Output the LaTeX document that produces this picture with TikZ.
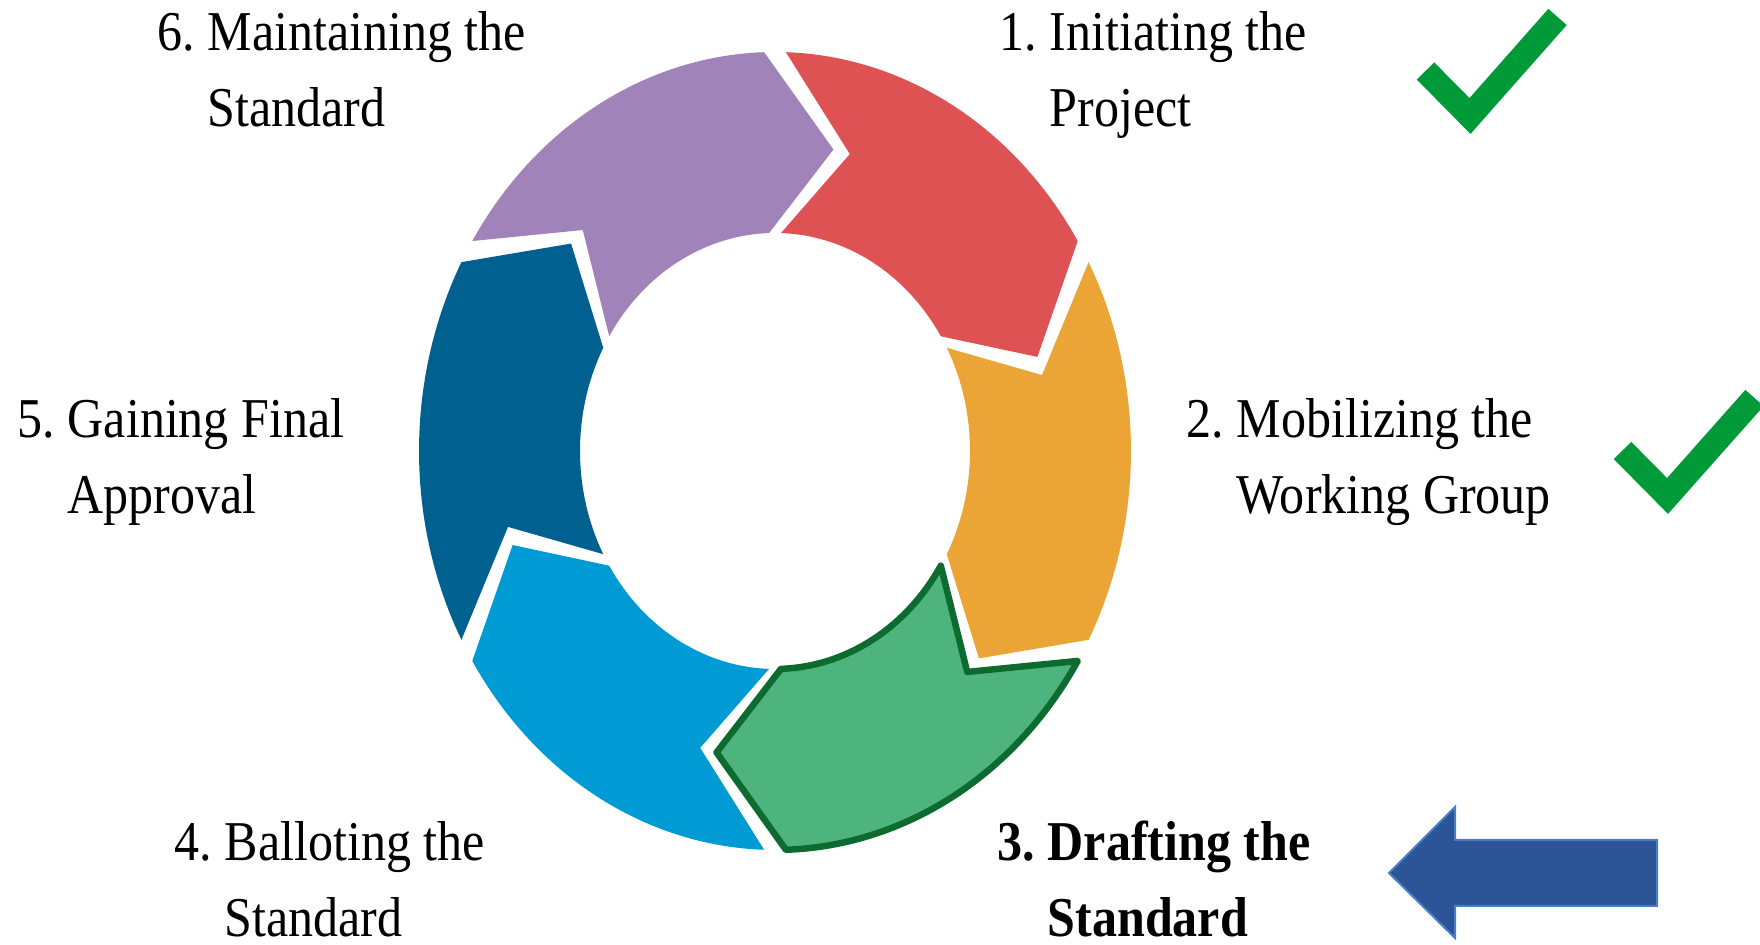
\documentclass[tikz,border=0pt]{standalone}
\usepackage{fontspec}
\setmainfont{Liberation Serif}[FakeStretch=0.89]
\definecolor{segred}{HTML}{DE5254}
\definecolor{segorange}{HTML}{EBA537}
\definecolor{seggreen}{HTML}{4DB47E}
\definecolor{segdkgreen}{HTML}{0E6B30}
\definecolor{seglblue}{HTML}{009BD5}
\definecolor{segdblue}{HTML}{006191}
\definecolor{segpurple}{HTML}{A083B9}
\definecolor{tickgreen}{HTML}{009B38}
\definecolor{arrowblue}{HTML}{2B5597}
\definecolor{arrowedge}{HTML}{4A7EC4}
% one block of the ring: #1 extra options, #2 colour, #3 start angle
\newcommand{\ringseg}[3][]{%
  \pgfmathsetmacro\sa{#3-1.75}%
  \pgfmathsetmacro\ea{#3-58.25}%
  \pgfmathsetmacro\na{#3-15.75}%
  \pgfmathsetmacro\ta{#3-72.25}%
  \path[fill=#2,#1] (\sa:3.56 and 3.99)
    arc[start angle=\sa, end angle=\ea, x radius=3.56, y radius=3.99]
    -- (\ta:2.755 and 3.085) -- (\ea:1.95 and 2.18)
    arc[start angle=\ea, end angle=\sa, x radius=1.95, y radius=2.18]
    -- (\na:2.755 and 3.085) -- cycle;}
\newcommand{\stagetext}[3]{\begin{tabular}[t]{@{}l@{\ }l@{}}#1 & #2\\ & #3\end{tabular}}
\begin{document}
\begin{tikzpicture}[
  lbl/.style={anchor=base west, inner sep=0pt, font=\fontsize{16}{21.6}\selectfont},
  tick/.style={tickgreen, line width=0.245cm, miter limit=10}]
	\useasboundingbox (0,0) rectangle (17.6,9.45);
	\clip (0,0) rectangle (17.6,9.45);
	% ring
	\begin{scope}[shift={(7.75,4.94)}]
		\ringseg{segred}{90}
		\ringseg{segorange}{30}
		\ringseg{seglblue}{-90}
		\ringseg{segdblue}{-150}
		\ringseg{segpurple}{150}
		\ringseg[draw=segdkgreen, line width=0.065cm, line join=round]{seggreen}{-30}
	\end{scope}
	% labels
	\node[lbl] (init) at (9.99,8.945) {\stagetext{1.}{Initiating the}{Project}};
	\node[lbl] (mobil) at (11.86,5.073) {\stagetext{2.}{Mobilizing the}{Working Group}};
	\node[lbl, font=\fontsize{16}{21.6}\selectfont\bfseries] (draft) at (9.97,0.84) {\stagetext{3.}{Drafting the}{Standard}};
	\node[lbl] (ballot) at (1.74,0.84) {\stagetext{4.}{Balloting the}{Standard}};
	\node[lbl] (final) at (0.17,5.073) {\stagetext{5.}{Gaining Final}{Approval}};
	\node[lbl] (maint) at (1.57,8.945) {\stagetext{6.}{Maintaining the}{Standard}};
	% ticks
	\draw[tick] (14.255,8.74) -- (14.70,8.29) -- (15.575,9.28);
	\draw[tick] (16.225,4.945) -- (16.675,4.49) -- (17.545,5.47);
	% current step
	\filldraw[fill=arrowblue, draw=arrowedge, line width=0.02cm]
		(13.89,0.72) -- (14.55,1.38) -- (14.55,1.05) -- (16.57,1.05)
		-- (16.57,0.39) -- (14.55,0.39) -- (14.55,0.07) -- cycle;
\end{tikzpicture}
\end{document}
